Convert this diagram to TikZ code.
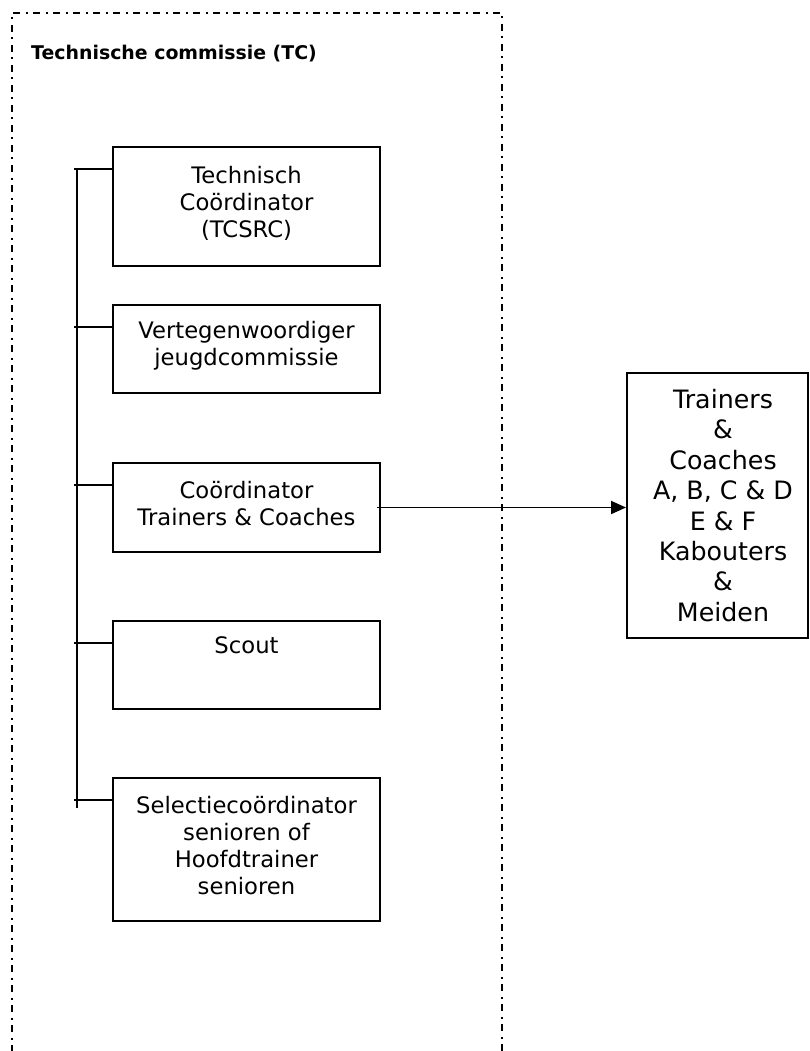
\documentclass[tikz,border=0pt]{standalone}
\usepackage{fontspec}
\setmainfont{DejaVu Sans}
\usetikzlibrary{arrows.meta}
\begin{document}
\begin{tikzpicture}[x=1pt,y=-1pt,
  box/.style={draw, line width=2pt, minimum width=267pt, inner sep=0pt},
  lbl/.style={anchor=north, align=center, inner sep=0pt, font=\fontsize{22.7}{27}\selectfont},
  rlbl/.style={anchor=north, align=center, inner sep=0pt, font=\fontsize{25.3}{30.4}\selectfont},
  link/.style={line width=1.9pt},
  frameline/.style={line width=1.8pt, dash pattern=on 7pt off 5.5pt on 2pt off 5.5pt}]
\useasboundingbox (0,0) rectangle (809,1051);
% dash-dot frame
\coordinate (fbl) at (12,1052);
\coordinate (ftl) at (12,13);
\coordinate (ftr) at (502,13);
\coordinate (fbr) at (502,1052);
\draw[frameline] (fbl) -- (ftl) -- (ftr) -- (fbr);
\node[font=\bfseries\fontsize{18.9}{22}\selectfont, anchor=base west, inner sep=0pt] (title) at (31,59.5) {Technische commissie (TC)};
% boxes
\node[box, minimum height=119pt] (b1) at (246.5,206.5) {};
\node[box, minimum height=88pt] (b2) at (246.5,349) {};
\node[box, minimum height=89pt] (b3) at (246.5,507.5) {};
\node[box, minimum height=88pt] (b4) at (246.5,665) {};
\node[box, minimum height=143pt] (b5) at (246.5,849.5) {};
\node[draw, line width=2pt, inner sep=0pt, minimum width=180.5pt, minimum height=265pt] (rb) at (717.25,505.5) {};
% labels
\node[lbl] (t1) at (246.5,164.3) {\strut Technisch\\Coördinator\\(TCSRC)};
\node[lbl] (t2) at (246.5,319.3) {\strut Vertegenwoordiger\\jeugdcommissie};
\node[lbl] (t3) at (246.5,479.3) {\strut Coördinator\\Trainers \& Coaches};
\node[lbl] (t4) at (246.5,634.3) {\strut Scout};
\node[lbl] (t5) at (246.5,794.3) {\strut Selectiecoördinator\\senioren of\\Hoofdtrainer\\senioren};
\node[rlbl] (tr) at (723,387) {\strut Trainers\\\&\\Coaches\\A, B, C \& D\\E \& F\\Kabouters\\\&\\Meiden};
% tree
\coordinate (vtop) at (77,170);
\coordinate (vbot) at (77,808);
\draw[link] (vtop) -- (vbot);
\foreach \b in {b1,b2,b3,b4,b5}{
  \draw[link] ([yshift=-23pt]\b.north west) -- ++(-38pt,0pt);
}
% arrow
\draw[link, -{Triangle[length=15pt,width=13pt]}] ([xshift=-4pt]b3.east) -- (b3.east -| rb.west);
\end{tikzpicture}
\end{document}
